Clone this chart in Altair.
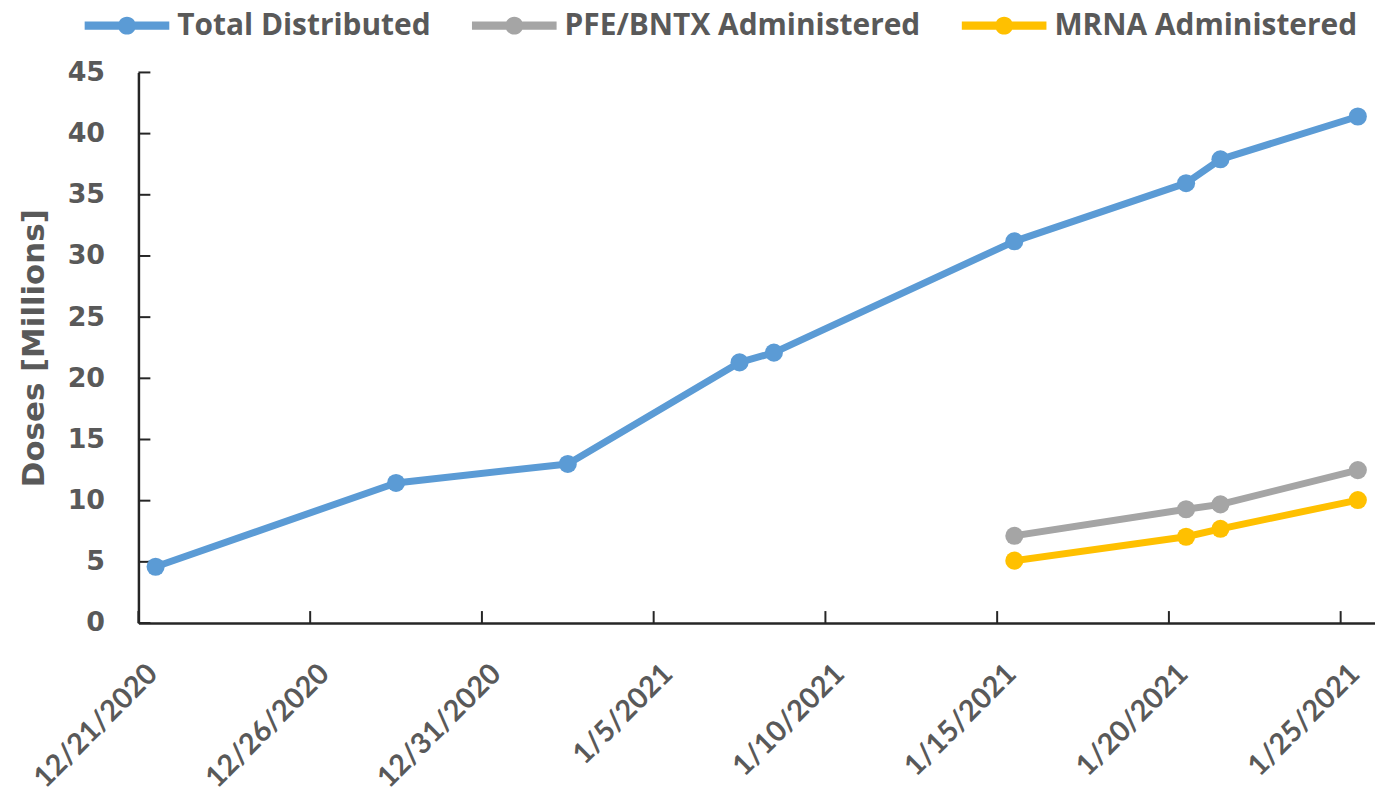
import altair as alt
import pandas as pd

series_names = ["Total Distributed", "PFE/BNTX Administered", "MRNA Administered"]
series_colors = ["#5B9BD5", "#A5A5A5", "#FFC000"]

total_dates = ["2020-12-21", "2020-12-28", "2021-01-02", "2021-01-07", "2021-01-08",
               "2021-01-15", "2021-01-20", "2021-01-21", "2021-01-25"]
total_values = [4.6, 11.45, 13.0, 21.3, 22.1, 31.2, 35.95, 37.9, 41.4]

admin_dates = ["2021-01-15", "2021-01-20", "2021-01-21", "2021-01-25"]
pfe_values = [7.13, 9.3, 9.7, 12.5]
mrna_values = [5.1, 7.05, 7.7, 10.05]

x_tick_dates = ["2020-12-21", "2020-12-26", "2020-12-31", "2021-01-05", "2021-01-10",
                "2021-01-15", "2021-01-20", "2021-01-25"]
y_tick_values = [0, 5, 10, 15, 20, 25, 30, 35, 40, 45]

rows = []
for d, v in zip(total_dates, total_values):
    rows.append({"series": series_names[0], "date": d, "value": v})
for d, v in zip(admin_dates, pfe_values):
    rows.append({"series": series_names[1], "date": d, "value": v})
for d, v in zip(admin_dates, mrna_values):
    rows.append({"series": series_names[2], "date": d, "value": v})
df = pd.DataFrame(rows)

xticks_df = pd.DataFrame({"date": x_tick_dates})
yticks_df = pd.DataFrame({"value": y_tick_values})

label_color = "#595959"
axis_color = "#262626"

x_scale = alt.Scale(type="utc",
                    domain=[alt.DateTime(year=2020, month=12, date=21, utc=True),
                            alt.DateTime(year=2021, month=1, date=26, utc=True)])
y_scale = alt.Scale(domain=[0, 45], nice=False, zero=True)

x_axis = alt.Axis(
    values=[alt.DateTime(year=int(d[:4]), month=int(d[5:7]), date=int(d[8:]), utc=True) for d in x_tick_dates],
    labelExpr="utcFormat(datum.value, '%-m/%-d/%Y')",
    labelAngle=-45, labelAlign="right", labelBaseline="middle",
    labelFont="Lato", labelFontWeight="bold", labelFontSize=29, labelColor=label_color,
    labelPadding=46, labelOffset=14,
    ticks=False, tickSize=0, grid=False, domainColor=axis_color, domainWidth=2.5,
    title=None, labelOverlap=False, labelBound=False, labelFlush=False,
)
y_axis = alt.Axis(
    values=y_tick_values,
    labelFont="DejaVu Sans", labelFontWeight="bold", labelFontSize=27, labelColor=label_color,
    labelPadding=34, ticks=False, tickSize=0, grid=False, domainColor=axis_color, domainWidth=2.5,
    title="Doses [Millions]", titleFont="DejaVu Sans", titleFontWeight="bold",
    titleFontSize=31, titleColor=label_color, titlePadding=17,
)

base = alt.Chart(df).transform_calculate(
    t="toDate(datum.date) + 12*3600*1000"
)

# legend glyph: a line segment with a dot, drawn in units of 10px (symbolSize 400 -> r = 10)
legend_path = ("M-1,-0.42L7.5,-0.42L7.5,0.42L-1,0.42Z"
               "M2.35,0A0.9,0.9,0,1,1,4.15,0A0.9,0.9,0,1,1,2.35,0Z")

color = alt.Color("series:N",
                  scale=alt.Scale(domain=series_names, range=series_colors),
                  legend=alt.Legend(
                      title=None, orient="none", direction="horizontal",
                      legendX=-59, legendY=-62,
                      symbolType=legend_path, symbolSize=400, symbolStrokeWidth=0,
                      labelFont="Open Sans", labelFontWeight="bold", labelFontSize=30,
                      labelColor=label_color, labelOffset=68, columnPadding=36,
                      labelLimit=1000, symbolOpacity=1,
                  ))

lines = base.mark_line(strokeWidth=7, strokeJoin="round").encode(
    x=alt.X("t:T", scale=x_scale, axis=x_axis),
    y=alt.Y("value:Q", scale=y_scale, axis=y_axis),
    color=color,
)
points = base.mark_point(filled=True, size=330, opacity=1).encode(
    x=alt.X("t:T", scale=x_scale),
    y=alt.Y("value:Q", scale=y_scale),
    color=color,
)

xticks = alt.Chart(xticks_df).mark_rule(color=axis_color, strokeWidth=2).encode(
    x=alt.X("date:T", scale=x_scale),
    y=alt.value(553), y2=alt.value(541),
)
yticks = alt.Chart(yticks_df).mark_rule(color=axis_color, strokeWidth=2).encode(
    y=alt.Y("value:Q", scale=y_scale),
    x=alt.value(0), x2=alt.value(12),
)

chart = alt.layer(xticks, yticks, lines, points).properties(
    width=1242, height=553,
    autosize=alt.AutoSizeParams(type="none"),
    padding={"left": 131, "top": 63, "right": 0, "bottom": 170},
    background="white",
).configure_view(stroke=None)

chart.save("out.html", embed_options={"renderer": "svg", "actions": False})
